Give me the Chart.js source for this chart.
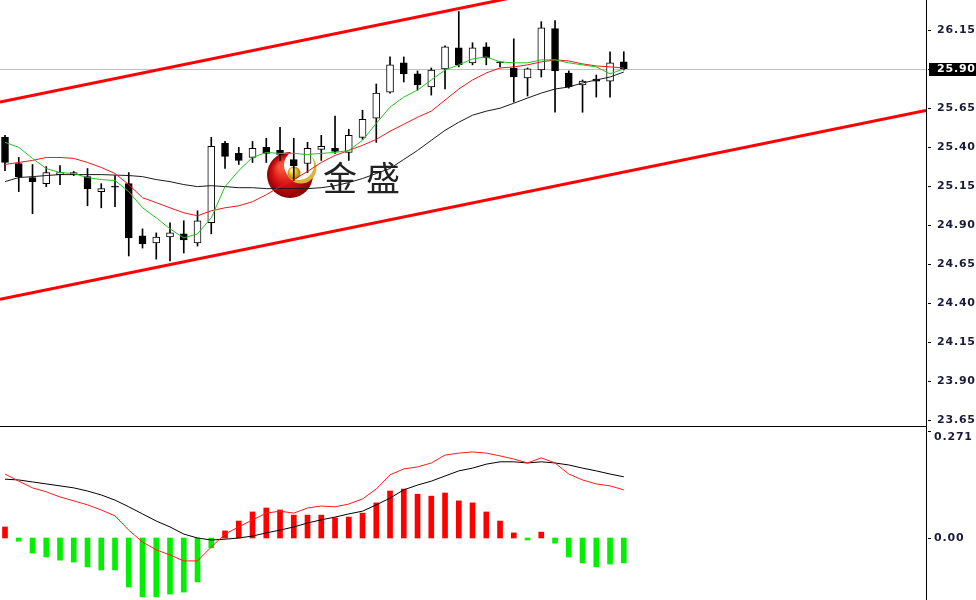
<!DOCTYPE html>
<html>
<head>
<meta charset="utf-8">
<script src="https://cdn.jsdelivr.net/npm/chart.js@4.4.1/dist/chart.umd.min.js"></script>
<style>
  html, body { margin: 0; padding: 0; background: #fff; }
  #wrap { position: relative; width: 976px; height: 600px; overflow: hidden; }
  canvas { position: absolute; left: 0; }
  #mainChart { top: 0; }
  #macdChart { top: 428px; }
</style>
</head>
<body>
<div id="wrap">
  <canvas id="mainChart" width="976" height="428"></canvas>
  <canvas id="macdChart" width="976" height="172"></canvas>
</div>
<script>
// price candles (one per bar, oldest first)
const opens  = [25.460,25.292,25.202,25.163,25.221,25.221,25.208,25.112,25.144,25.163,24.828,24.783,24.821,24.841,24.783,24.912,25.421,25.357,25.331,25.396,25.376,25.318,25.292,25.383,25.389,25.363,25.460,25.583,25.750,25.938,25.867,25.783,25.899,26.034,25.938,26.041,25.941,25.905,25.841,25.892,26.157,25.873,25.796,25.834,25.821,25.944];
const highs  = [25.473,25.331,25.286,25.273,25.279,25.241,25.260,25.163,25.215,25.234,24.873,24.847,24.912,24.925,24.989,25.460,25.434,25.396,25.434,25.454,25.525,25.454,25.428,25.473,25.596,25.512,25.634,25.802,25.976,25.976,25.886,25.905,26.047,26.267,26.067,26.067,25.944,26.092,25.905,26.202,26.209,25.886,25.828,25.860,26.009,26.009];
const lows   = [25.247,25.112,24.970,25.144,25.157,25.215,25.021,25.008,25.015,24.699,24.750,24.679,24.667,24.718,24.763,24.841,25.260,25.286,25.299,25.299,25.312,25.183,25.234,25.312,25.357,25.312,25.447,25.428,25.744,25.815,25.763,25.731,25.770,25.912,25.925,25.925,25.912,25.686,25.725,25.847,25.621,25.776,25.621,25.718,25.718,25.892];
const closes = [25.299,25.208,25.176,25.234,25.234,25.234,25.131,25.131,25.141,24.815,24.776,24.821,24.847,24.802,24.925,25.402,25.338,25.312,25.389,25.357,25.350,25.279,25.389,25.402,25.370,25.473,25.576,25.744,25.925,25.867,25.796,25.892,26.041,25.925,26.034,25.970,25.938,25.847,25.899,26.163,25.886,25.783,25.821,25.821,25.938,25.899];

// moving averages
const maFast = [25.428,25.396,25.325,25.260,25.234,25.228,25.202,25.189,25.183,25.112,25.008,24.944,24.873,24.815,24.841,24.944,25.144,25.247,25.331,25.363,25.357,25.357,25.350,25.357,25.363,25.376,25.441,25.550,25.654,25.718,25.763,25.828,25.892,25.925,25.963,25.976,25.944,25.938,25.938,25.957,25.957,25.938,25.925,25.912,25.867,25.899];
const maMid  = [25.286,25.299,25.312,25.331,25.331,25.325,25.299,25.267,25.228,25.157,25.073,25.041,25.008,24.976,24.957,24.989,25.008,25.021,25.047,25.092,25.144,25.189,25.241,25.299,25.344,25.376,25.409,25.447,25.499,25.544,25.589,25.628,25.699,25.770,25.828,25.873,25.905,25.912,25.925,25.944,25.957,25.950,25.931,25.918,25.912,25.905];
const maSlow = [25.176,25.202,25.208,25.215,25.221,25.221,25.221,25.221,25.218,25.215,25.208,25.189,25.176,25.157,25.144,25.150,25.144,25.137,25.137,25.131,25.131,25.131,25.131,25.137,25.150,25.170,25.196,25.228,25.260,25.318,25.376,25.441,25.505,25.557,25.602,25.628,25.647,25.679,25.712,25.744,25.770,25.783,25.809,25.828,25.847,25.879];

// trend channel (two end points each, in bar units)
const channelX     = [-0.364, 67.05];
const upperChannel = [25.686, 26.899];
const lowerChannel = [24.421, 25.634];

// MACD panel
const macdHist = [0.028,-0.008,-0.038,-0.048,-0.056,-0.061,-0.073,-0.081,-0.081,-0.124,-0.149,-0.149,-0.142,-0.137,-0.111,-0.025,0.018,0.043,0.066,0.076,0.071,0.058,0.058,0.058,0.051,0.053,0.063,0.089,0.119,0.124,0.111,0.106,0.114,0.094,0.089,0.066,0.043,0.013,-0.005,0.015,-0.013,-0.048,-0.063,-0.073,-0.066,-0.063];
const macdFast = [0.162,0.144,0.127,0.117,0.104,0.094,0.084,0.071,0.056,0.020,-0.010,-0.030,-0.043,-0.058,-0.058,-0.023,0.010,0.028,0.046,0.063,0.068,0.063,0.076,0.081,0.079,0.086,0.099,0.124,0.160,0.175,0.180,0.190,0.210,0.215,0.218,0.215,0.208,0.200,0.190,0.203,0.190,0.162,0.147,0.137,0.132,0.122];
const macdSlow = [0.149,0.147,0.142,0.137,0.132,0.127,0.119,0.109,0.096,0.079,0.061,0.043,0.028,0.010,0.000,-0.005,-0.003,0.000,0.005,0.013,0.020,0.028,0.038,0.046,0.053,0.061,0.068,0.084,0.101,0.122,0.134,0.144,0.157,0.170,0.177,0.187,0.193,0.193,0.190,0.193,0.190,0.185,0.177,0.170,0.162,0.155];

// axis ticks
const priceTicks = [26.15, 25.90, 25.65, 25.40, 25.15, 24.90, 24.65, 24.40, 24.15, 23.90, 23.65];
const macdTicks = [0.271, 0.00];
const lastPrice = 25.90;

const xMin = -0.364, xMax = 67.05;
const axisFont = 'bold 11px "DejaVu Sans"';

const pts = arr => arr.map((v, i) => ({ x: i, y: v }));

function drawLogo(ctx) {
  const cx = 290, cy = 175, r = 23;
  ctx.save();
  let g = ctx.createRadialGradient(cx - 9, cy - 9, 2, cx, cy, r);
  g.addColorStop(0, '#ff5a40');
  g.addColorStop(0.55, '#d41212');
  g.addColorStop(1, '#8c0000');
  ctx.fillStyle = g;
  ctx.beginPath(); ctx.arc(cx, cy, r, 0, Math.PI * 2); ctx.fill();
  // gold rim inside the opening
  ctx.fillStyle = '#d9b43a';
  ctx.beginPath(); ctx.arc(cx + 11, cy - 7, 15.5, 0, Math.PI * 2); ctx.fill();
  ctx.fillStyle = '#fff';
  ctx.beginPath(); ctx.arc(cx + 9, cy - 10, 15, 0, Math.PI * 2); ctx.fill();
  // gold ball
  g = ctx.createRadialGradient(cx + 2, cy - 5, 1, cx + 4, cy - 2, 7);
  g.addColorStop(0, '#fff4a8');
  g.addColorStop(0.5, '#e2b21e');
  g.addColorStop(1, '#9a760c');
  ctx.fillStyle = g;
  ctx.beginPath(); ctx.arc(cx + 4, cy - 2, 6.5, 0, Math.PI * 2); ctx.fill();
  // brand text
  ctx.fillStyle = '#222';
  ctx.font = '34px "Noto Sans CJK SC"';
  ctx.textBaseline = 'middle';
  ctx.fillText('金', 323, 178);
  ctx.fillText('盛', 366, 178);
  ctx.restore();
}

const mainDecor = {
  id: 'mainDecor',
  beforeDatasetsDraw(chart) {
    const { ctx, chartArea: a, scales: { y } } = chart;
    const py = Math.round(y.getPixelForValue(lastPrice)) + 0.5;
    ctx.save();
    ctx.strokeStyle = '#c0c0c0';
    ctx.lineWidth = 1;
    ctx.beginPath(); ctx.moveTo(a.left, py); ctx.lineTo(a.right, py); ctx.stroke();
    ctx.restore();
    drawLogo(ctx);
  },
  afterDraw(chart) {
    const { ctx, chartArea: a, scales: { y } } = chart;
    ctx.save();
    ctx.fillStyle = '#000';
    ctx.fillRect(a.right - 1, 0, 1, chart.height);
    ctx.fillRect(0, a.bottom - 1, a.right, 1);
    ctx.font = axisFont;
    ctx.letterSpacing = '0.8px';
    ctx.textBaseline = 'middle';
    priceTicks.forEach(v => {
      const py = Math.round(y.getPixelForValue(v));
      ctx.fillStyle = '#000';
      ctx.fillRect(a.right + 1, py, 3, 1);
      ctx.fillStyle = '#1a1a3a';
      ctx.fillText(v.toFixed(2), a.right + 10, py + 0.5);
    });
    // current price box
    const py = Math.round(y.getPixelForValue(lastPrice));
    ctx.fillStyle = '#000';
    ctx.fillRect(a.right + 2, py - 6, chart.width - a.right - 2, 13);
    ctx.fillStyle = '#fff';
    ctx.fillText(lastPrice.toFixed(2), a.right + 10, py + 0.5);
    ctx.restore();
  }
};

const macdDecor = {
  id: 'macdDecor',
  afterDraw(chart) {
    const { ctx, chartArea: a, scales: { y } } = chart;
    ctx.save();
    ctx.fillStyle = '#000';
    ctx.fillRect(a.right - 1, 0, 1, chart.height);
    ctx.font = axisFont;
    ctx.letterSpacing = '0.8px';
    ctx.textBaseline = 'middle';
    macdTicks.forEach((v, i) => {
      const py = Math.round(y.getPixelForValue(v));
      ctx.fillStyle = '#000';
      ctx.fillRect(a.right + 1, py, 3, 1);
      ctx.fillStyle = '#1a1a3a';
      const label = i === 0 ? v.toFixed(3) : v.toFixed(2);
      ctx.fillText(label, a.right + 7, py + (i === 0 ? 6 : 0.5));
    });
    ctx.restore();
  }
};

const xScale = { type: 'linear', min: xMin, max: xMax, offset: false, display: false };

new Chart(document.getElementById('mainChart'), {
  type: 'bar',
  data: {
    datasets: [
      { type: 'line', data: channelX.map((x, i) => ({ x, y: upperChannel[i] })), borderColor: '#ff0000', borderWidth: 3, pointRadius: 0 },
      { type: 'line', data: channelX.map((x, i) => ({ x, y: lowerChannel[i] })), borderColor: '#ff0000', borderWidth: 3, pointRadius: 0 },
      { type: 'line', data: pts(maFast), borderColor: '#22c322', borderWidth: 1, pointRadius: 0 },
      { type: 'line', data: pts(maMid), borderColor: '#f01818', borderWidth: 1, pointRadius: 0 },
      { type: 'line', data: pts(maSlow), borderColor: '#1a1a1a', borderWidth: 1, pointRadius: 0 },
      {
        data: opens.map((o, i) => ({ x: i, y: [o, closes[i]] })),
        backgroundColor: opens.map((o, i) => closes[i] >= o ? '#ffffff' : '#000000'),
        borderColor: '#000', borderWidth: 1, borderSkipped: false,
        barThickness: 7, grouped: false, minBarLength: 1
      },
      {
        data: lows.map((l, i) => ({ x: i, y: [l, highs[i]] })),
        backgroundColor: '#000', barThickness: 1, grouped: false
      }
    ]
  },
  options: {
    responsive: false, animation: false, devicePixelRatio: 1, events: [],
    layout: { padding: { right: 49, bottom: 1 } },
    plugins: { legend: { display: false }, tooltip: { enabled: false } },
    scales: {
      x: xScale,
      y: { min: 23.602, max: 26.341, display: false }
    }
  },
  plugins: [mainDecor]
});

new Chart(document.getElementById('macdChart'), {
  type: 'bar',
  data: {
    datasets: [
      { type: 'line', data: pts(macdFast), borderColor: '#ff1a1a', borderWidth: 1, pointRadius: 0 },
      { type: 'line', data: pts(macdSlow), borderColor: '#000', borderWidth: 1, pointRadius: 0 },
      {
        data: pts(macdHist),
        backgroundColor: macdHist.map(v => v >= 0 ? '#ff0000' : '#00f000'),
        barThickness: 5, grouped: false
      }
    ]
  },
  options: {
    responsive: false, animation: false, devicePixelRatio: 1, events: [],
    layout: { padding: { right: 49, top: 3 } },
    plugins: { legend: { display: false }, tooltip: { enabled: false } },
    scales: {
      x: xScale,
      y: { min: -0.157, max: 0.271, display: false }
    }
  },
  plugins: [macdDecor]
});
</script>
</body>
</html>
